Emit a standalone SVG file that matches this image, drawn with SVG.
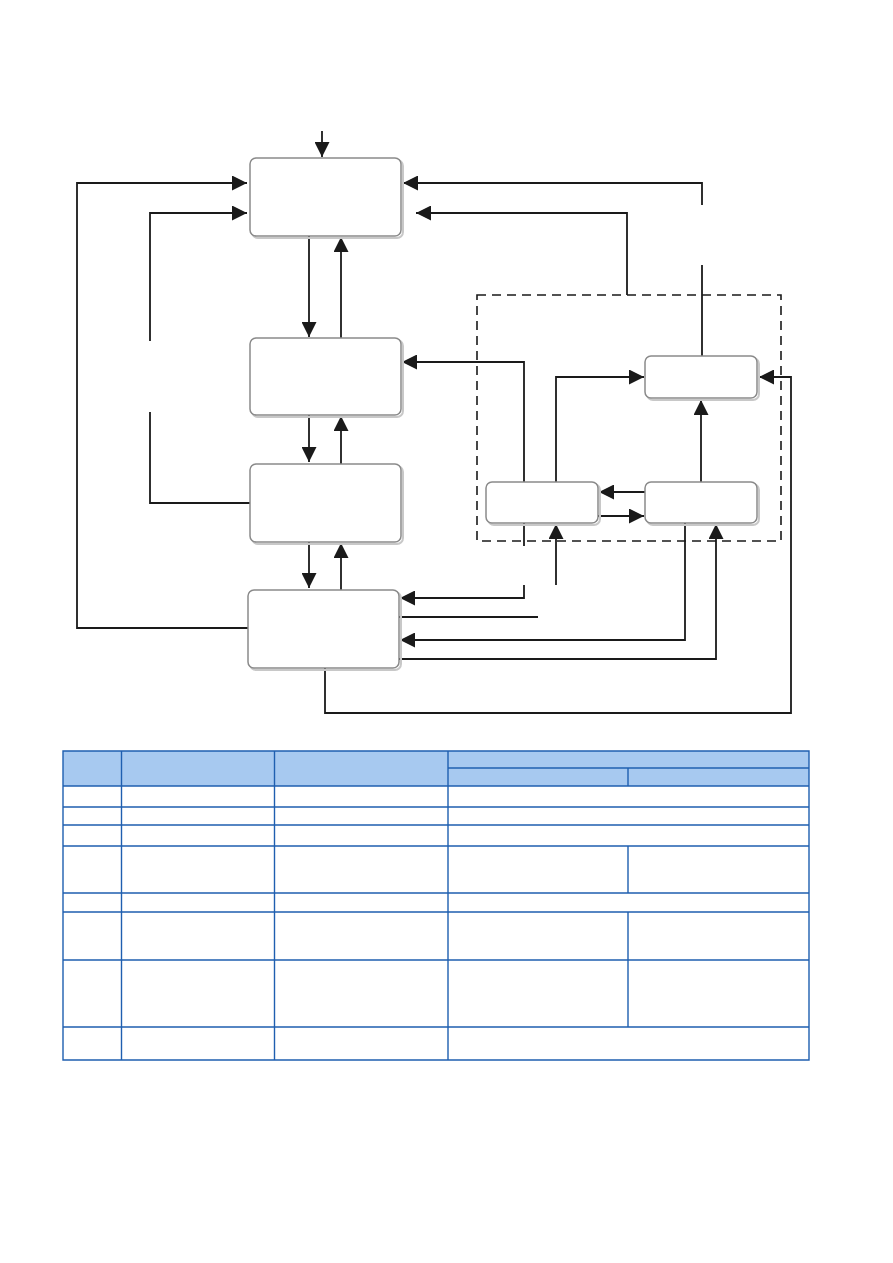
<svg xmlns="http://www.w3.org/2000/svg" width="893" height="1263" viewBox="0 0 893 1263">
<style>
.node{fill:#fff;stroke:#8a8a8a;stroke-width:1.5}
.sh{fill:none;stroke:#c8c8c8;stroke-width:2}
.c{fill:none;stroke:#1a1a1a;stroke-width:1.8}
.dash{fill:none;stroke:#1a1a1a;stroke-width:1.6;stroke-dasharray:9,6}
.hd{fill:#a7c9f0}
.tl{fill:none;stroke:#1f5fb0;stroke-width:1.4}
</style>
<defs>
<marker id="ah" viewBox="0 0 10 10" refX="10" refY="5" markerWidth="15" markerHeight="15" markerUnits="userSpaceOnUse" orient="auto">
<path d="M0,0 L10,5 L0,10 Z" fill="#1a1a1a"/>
</marker>
</defs>
<rect width="893" height="1263" fill="#fff"/>
<g id="connectors">
<path class="c" d="M322,131 V157" marker-end="url(#ah)"/>
<path class="c" d="M248,628 H77 V183 H247" marker-end="url(#ah)"/>
<path class="c" d="M250,503 H150 V412"/>
<path class="c" d="M150,341 V213 H247" marker-end="url(#ah)"/>
<path class="c" d="M702,205 V183 H403" marker-end="url(#ah)"/>
<path class="c" d="M702,265 V356"/>
<path class="c" d="M627,295 V213 H416" marker-end="url(#ah)"/>
<path class="c" d="M309,236 V337" marker-end="url(#ah)"/>
<path class="c" d="M341,338 V237" marker-end="url(#ah)"/>
<path class="c" d="M309,415 V462" marker-end="url(#ah)"/>
<path class="c" d="M341,464 V416" marker-end="url(#ah)"/>
<path class="c" d="M309,542 V588" marker-end="url(#ah)"/>
<path class="c" d="M341,590 V543" marker-end="url(#ah)"/>
<path class="c" d="M524,482 V362 H402" marker-end="url(#ah)"/>
<path class="c" d="M556,482 V377 H644" marker-end="url(#ah)"/>
<path class="c" d="M701,482 V400" marker-end="url(#ah)"/>
<path class="c" d="M645,492 H599" marker-end="url(#ah)"/>
<path class="c" d="M598,516 H644" marker-end="url(#ah)"/>
<path class="c" d="M524,523 V546"/>
<path class="c" d="M524,585 V598 H400" marker-end="url(#ah)"/>
<path class="c" d="M399,617 H538"/>
<path class="c" d="M556,585 V524" marker-end="url(#ah)"/>
<path class="c" d="M685,523 V640 H400" marker-end="url(#ah)"/>
<path class="c" d="M399,659 H716 V524" marker-end="url(#ah)"/>
<path class="c" d="M325,668 V713 H791 V377 H759" marker-end="url(#ah)"/>
<path class="dash" d="M477,295 H781 V541 H477 Z"/>
</g>
<g id="nodeA"><rect class="sh" x="252" y="160" width="151" height="78" rx="6"/><rect class="node" x="250" y="158" width="151" height="78" rx="6"/></g>
<g id="nodeB"><rect class="sh" x="252" y="340" width="151" height="77" rx="6"/><rect class="node" x="250" y="338" width="151" height="77" rx="6"/></g>
<g id="nodeC"><rect class="sh" x="252" y="466" width="151" height="78" rx="6"/><rect class="node" x="250" y="464" width="151" height="78" rx="6"/></g>
<g id="nodeD"><rect class="sh" x="250" y="592" width="151" height="78" rx="6"/><rect class="node" x="248" y="590" width="151" height="78" rx="6"/></g>
<g id="nodeE"><rect class="sh" x="647" y="358" width="112" height="42" rx="6"/><rect class="node" x="645" y="356" width="112" height="42" rx="6"/></g>
<g id="nodeF"><rect class="sh" x="488" y="484" width="112" height="41" rx="6"/><rect class="node" x="486" y="482" width="112" height="41" rx="6"/></g>
<g id="nodeG"><rect class="sh" x="647" y="484" width="112" height="41" rx="6"/><rect class="node" x="645" y="482" width="112" height="41" rx="6"/></g>
<g id="table">
<rect class="hd" x="63" y="751" width="746" height="35"/>
<path class="tl" d="M63,751 H809 V1060 H63 Z"/>
<path class="tl" d="M448,768 H809"/>
<path class="tl" d="M63,786 H809 M63,807 H809 M63,825 H809 M63,846 H809 M63,893 H809 M63,912 H809 M63,960 H809 M63,1027 H809"/>
<path class="tl" d="M121.5,751 V1060 M274.5,751 V1060 M448,751 V1060"/>
<path class="tl" d="M628,768 V786 M628,846 V893 M628,912 V1027"/>
</g>
</svg>
